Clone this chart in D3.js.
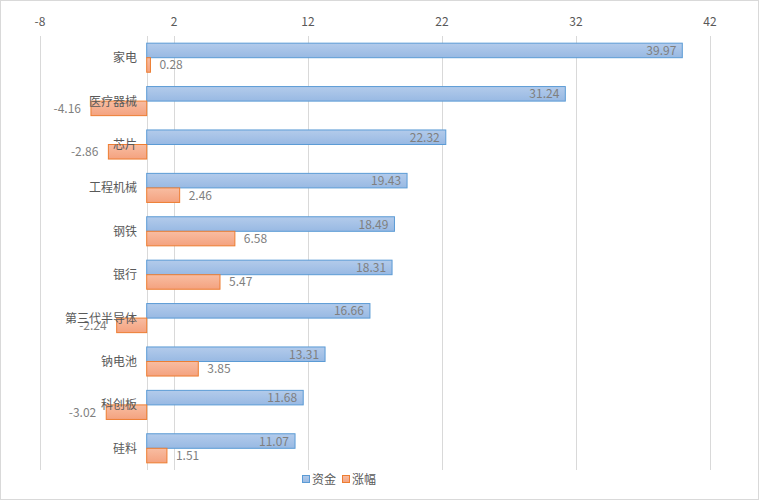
<!DOCTYPE html>
<html><head><meta charset="utf-8">
<script src="https://cdn.jsdelivr.net/npm/d3@7"></script>
<style>body{margin:0;background:#fff}svg{display:block}text{font-family:"Noto Sans CJK SC","Noto Sans",sans-serif}</style>
</head><body><svg id="c" width="759" height="500"></svg>
<script>
const categories = ["家电","医疗器械","芯片","工程机械","钢铁","银行","第三代半导体","钠电池","科创板","硅料"];
const fund = [39.97,31.24,22.32,19.43,18.49,18.31,16.66,13.31,11.68,11.07];
const change = [0.28,-4.16,-2.86,2.46,6.58,5.47,-2.24,3.85,-3.02,1.51];
const tickValues = [-8,2,12,22,32,42];
const seriesNames = ["资金","涨幅"];

const svg = d3.select("#c");
svg.append("rect").attr("x",0.5).attr("y",0.5).attr("width",758).attr("height",499).attr("fill","#fff").attr("stroke","#d9d9d9");
const defs = svg.append("defs");
const gb = defs.append("linearGradient").attr("id","gb").attr("x1",0).attr("y1",0).attr("x2",0).attr("y2",1);
gb.append("stop").attr("offset","0").attr("stop-color","#b3cbeb");
gb.append("stop").attr("offset","1").attr("stop-color","#98b9e3");
const go = defs.append("linearGradient").attr("id","go").attr("x1",0).attr("y1",0).attr("x2",0).attr("y2",1);
go.append("stop").attr("offset","0").attr("stop-color","#f8bda2");
go.append("stop").attr("offset","1").attr("stop-color","#f4a27f");

const x = d3.scaleLinear().domain([-8,42]).range([39.5,709.5]);
const y = d3.scaleBand().domain(categories).range([36,470]).paddingInner(0.33).paddingOuter(0.165);
const bw = y.bandwidth()/2;

// gridlines
svg.append("g").selectAll("line").data(tickValues).join("line")
  .attr("x1",d=>Math.round(x(d))+0.5).attr("x2",d=>Math.round(x(d))+0.5)
  .attr("y1",36).attr("y2",470).attr("stroke","#d9d9d9");
// axis at top
const ax = svg.append("g").attr("transform","translate(0,36)")
  .call(d3.axisTop(x).tickValues(tickValues).tickFormat(d=>String(d)).tickSize(0).tickPadding(10));
ax.select(".domain").remove();
ax.selectAll("text").attr("fill","#595959").attr("font-size","12px");
// zero line
svg.append("line").attr("x1",Math.round(x(0))+0.5).attr("x2",Math.round(x(0))+0.5).attr("y1",36).attr("y2",470).attr("stroke","#d9d9d9");

const data = categories.map((c,i)=>({c,f:fund[i],g:change[i]}));
// blue bars
svg.append("g").selectAll("rect").data(data).join("rect")
  .attr("x",d=>x(Math.min(0,d.f))).attr("y",d=>y(d.c))
  .attr("width",d=>Math.abs(x(d.f)-x(0))).attr("height",bw)
  .attr("fill","url(#gb)").attr("stroke","#5b9bd5").attr("stroke-width",1);
// orange bars
svg.append("g").selectAll("rect").data(data).join("rect")
  .attr("x",d=>x(Math.min(0,d.g))).attr("y",d=>y(d.c)+bw)
  .attr("width",d=>Math.abs(x(d.g)-x(0))).attr("height",bw)
  .attr("fill","url(#go)").attr("stroke","#ed7d31").attr("stroke-width",1);
// blue labels
svg.append("g").selectAll("text").data(data).join("text")
  .attr("x",d=>x(d.f)-6).attr("y",d=>y(d.c)+bw/2+4.5)
  .attr("text-anchor","end").attr("font-size","12px").attr("fill","#7f7f7f")
  .text(d=>d.f.toFixed(2));
// orange labels
svg.append("g").selectAll("text").data(data).join("text")
  .attr("x",d=>d.g>=0?x(d.g)+9:x(d.g)-10).attr("y",d=>y(d.c)+bw*1.5+4.5)
  .attr("text-anchor",d=>d.g>=0?"start":"end").attr("font-size","12px").attr("fill","#7f7f7f")
  .text(d=>d.g.toFixed(2));
// category labels
svg.append("g").selectAll("text").data(categories).join("text")
  .attr("x",137).attr("y",d=>y(d)+y.bandwidth()/2+4.5)
  .attr("text-anchor","end").attr("font-size","12px").attr("fill","#595959").text(d=>d);
// legend
const lg = svg.append("g");
const lx = [302,342];
const fills = ["url(#gb)","url(#go)"], strokes=["#5b9bd5","#ed7d31"];
seriesNames.forEach((n,i)=>{
  lg.append("rect").attr("x",lx[i]+0.5).attr("y",475.5).attr("width",7).attr("height",7).attr("fill",fills[i]).attr("stroke",strokes[i]);
  lg.append("text").attr("x",lx[i]+10).attr("y",483.5).attr("font-size","12px").attr("fill","#595959").text(n);
});
</script></body></html>
